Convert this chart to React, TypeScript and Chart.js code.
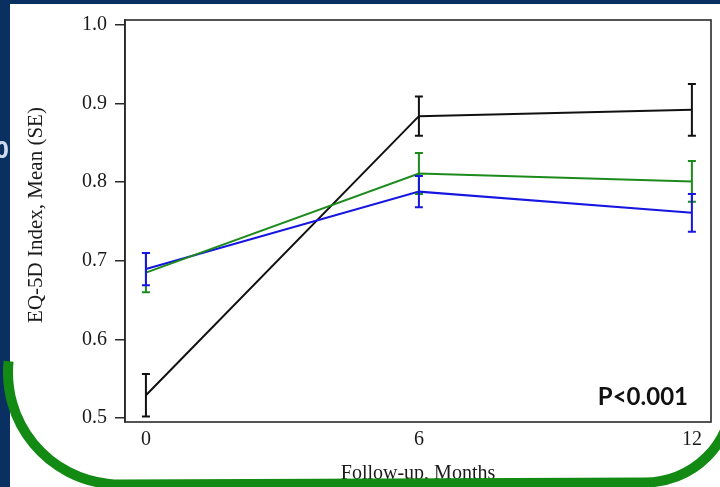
import React, { useEffect, useRef } from "react";
import { Chart, registerables } from "chart.js";

Chart.register(...registerables);

const months = [0, 6, 12];
const yTickValues = [0.5, 0.6, 0.7, 0.8, 0.9, 1.0];

const blackMean = [0.529, 0.884, 0.892];
const blackSE = [0.027, 0.025, 0.033];
const greenMean = [0.685, 0.811, 0.801];
const greenSE = [0.025, 0.026, 0.026];
const blueMean = [0.6895, 0.788, 0.761];
const blueSE = [0.0205, 0.02, 0.024];

const yTitle = "EQ-5D Index, Mean (SE)";
const xTitle = "Follow-up, Months";
const pText = "P<0.001";

const SERIF = "'Liberation Serif', 'DejaVu Serif', serif";

const bgPlugin = {
  id: "bgPanel",
  beforeDraw(chart: any) {
    const ctx = chart.ctx;
    const W = chart.width;
    const H = chart.height;
    ctx.save();
    ctx.fillStyle = "#0a2f61";
    ctx.fillRect(0, 0, W, H);
    ctx.fillStyle = "#cfdcef";
    ctx.font = "bold 24px 'Open Sans', sans-serif";
    ctx.textBaseline = "alphabetic";
    ctx.textAlign = "left";
    ctx.fillText("0", -5, 158);
    ctx.fillStyle = "#ffffff";
    ctx.fillRect(10, 4, W - 10, H - 4);
    ctx.restore();
  },
};

const errorPlugin = {
  id: "errBars",
  afterDatasetsDraw(chart: any) {
    const ctx = chart.ctx;
    const xs = chart.scales.x;
    const ys = chart.scales.y;
    const area = chart.chartArea;
    ctx.save();
    ctx.strokeStyle = "#2a2a2a";
    ctx.lineWidth = 1.6;
    ctx.strokeRect(area.left, area.top, area.right - area.left, area.bottom - area.top);
    chart.data.datasets.forEach((ds: any) => {
      const se: number[] = ds.se;
      ctx.strokeStyle = ds.borderColor;
      ctx.lineWidth = 2;
      ds.data.forEach((p: any, i: number) => {
        const x = xs.getPixelForValue(p.x);
        const y1 = ys.getPixelForValue(p.y - se[i]);
        const y2 = ys.getPixelForValue(p.y + se[i]);
        ctx.beginPath();
        ctx.moveTo(x, y1);
        ctx.lineTo(x, y2);
        ctx.moveTo(x - 4, y1);
        ctx.lineTo(x + 4, y1);
        ctx.moveTo(x - 4, y2);
        ctx.lineTo(x + 4, y2);
        ctx.stroke();
      });
    });
    ctx.restore();
  },
  afterDraw(chart: any) {
    const ctx = chart.ctx;
    const area = chart.chartArea;
    ctx.save();
    ctx.fillStyle = "#1a1a1a";
    ctx.font = `20px ${SERIF}`;
    ctx.textAlign = "center";
    ctx.textBaseline = "middle";
    ctx.save();
    ctx.translate(36, (area.top + area.bottom) / 2 - 6);
    ctx.rotate(-Math.PI / 2);
    ctx.font = `21px ${SERIF}`;
    ctx.fillText(yTitle, 0, 0);
    ctx.restore();
    ctx.textBaseline = "alphabetic";
    ctx.fillText(xTitle, (area.left + area.right) / 2, 479);
    ctx.fillStyle = "#111";
    ctx.font = "bold 24px Lato, 'Open Sans', sans-serif";
    ctx.textAlign = "right";
    ctx.fillText(pText, 688, 405);
    ctx.strokeStyle = "#138a13";
    ctx.lineWidth = 10;
    ctx.beginPath();
    ctx.arc(120, 372.5, 112, Math.PI + 0.1, Math.PI / 2, true);
    ctx.lineTo(645, 482.5);
    ctx.arc(645, 395, 87.5, Math.PI / 2, -0.2, true);
    ctx.stroke();
    ctx.restore();
  },
};

export default function App() {
  const ref = useRef<HTMLCanvasElement | null>(null);

  useEffect(() => {
    document.body.style.margin = "0";
    if (!ref.current) return;
    const mk = (m: number[]) => months.map((x, i) => ({ x, y: m[i] }));
    const chart = new Chart(ref.current, {
      type: "line",
      data: {
        datasets: [
          { data: mk(greenMean), se: greenSE, borderColor: "#1c8a1c", borderWidth: 2, pointRadius: 0, fill: false } as any,
          { data: mk(blueMean), se: blueSE, borderColor: "#1616e0", borderWidth: 2, pointRadius: 0, fill: false } as any,
          { data: mk(blackMean), se: blackSE, borderColor: "#111111", borderWidth: 2, pointRadius: 0, fill: false } as any,
        ],
      },
      options: {
        responsive: false,
        animation: false,
        devicePixelRatio: 1,
        layout: { padding: { top: 15, right: 9, left: 0, bottom: 0 } },
        plugins: { legend: { display: false }, tooltip: { enabled: false }, title: { display: false } },
        scales: {
          x: {
            type: "linear",
            min: -0.46,
            max: 12.42,
            afterBuildTicks: (s: any) => {
              s.ticks = months.map((v) => ({ value: v }));
            },
            afterFit: (s: any) => {
              s.height = 65;
            },
            grid: { display: false, drawTicks: false },
            border: { display: false },
            ticks: {
              padding: 6,
              color: "#1a1a1a",
              font: { family: SERIF, size: 20 },
              maxRotation: 0,
              callback: (v: any) => String(v),
            },
          },
          y: {
            type: "linear",
            min: 0.495,
            max: 1.0063,
            afterBuildTicks: (s: any) => {
              s.ticks = yTickValues.map((v) => ({ value: v }));
            },
            afterFit: (s: any) => {
              s.width = 125;
            },
            grid: { display: true, drawOnChartArea: false, drawTicks: true, tickLength: 10, color: "#2a2a2a", lineWidth: 1.5 },
            border: { display: true, color: "#2a2a2a", width: 1.6 },
            ticks: {
              padding: 8,
              color: "#1a1a1a",
              font: { family: SERIF, size: 20 },
              callback: (v: any) => Number(v).toFixed(1),
            },
          },
        },
      },
      plugins: [bgPlugin, errorPlugin],
    } as any);
    return () => chart.destroy();
  }, []);

  return (
    <div style={{ width: 720, height: 487 }}>
      <canvas ref={ref} width={720} height={487} style={{ display: "block", width: 720, height: 487 }} />
    </div>
  );
}
